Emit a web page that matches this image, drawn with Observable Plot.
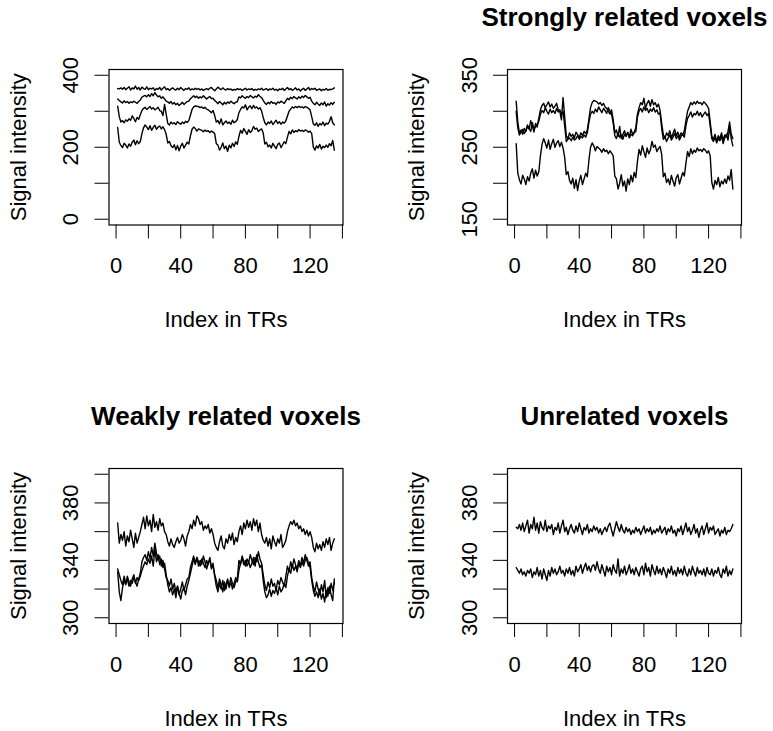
<!DOCTYPE html>
<html>
<head>
<meta charset="utf-8">
<script src="https://cdn.jsdelivr.net/npm/d3@7"></script>
<script src="https://cdn.jsdelivr.net/npm/@observablehq/plot@0.6"></script>
<style>
  body { margin: 0; background: #fff; }
  #chart { position: relative; width: 773px; height: 731px; background: #fff; overflow: hidden; }
  #chart svg { position: absolute; }
</style>
</head>
<body>
<div id="chart"></div>
<script>
// Time index (TR number) shared by every series
const tr = d3.range(1, 136);

// Strongly related voxels
const strongUpperA = [
  314, 285, 270, 274, 268, 276, 272, 279, 275, 287, 280, 271, 283, 278, 290,
  302, 308, 311, 305, 309, 313, 306, 310, 304, 307, 311, 302, 300, 288, 319, 292,
  266, 262, 270, 265, 268, 263, 271, 267, 264, 270, 266, 272, 269, 274,
  289, 305, 312, 315, 314, 313, 310, 312, 308, 311, 306, 304, 300, 296, 302, 288,
  270, 274, 265, 279, 262, 268, 273, 266, 270, 264, 275, 268, 271, 277,
  296, 305, 312, 309, 318, 304, 311, 315, 307, 316, 309, 312, 306, 310, 301, 283,
  268, 262, 270, 266, 273, 263, 269, 275, 266, 271, 264, 270, 267, 273,
  287, 300, 306, 312, 309, 313, 310, 314, 311, 312, 309, 313, 311, 308, 304, 285,
  265, 261, 268, 258, 266, 262, 270, 260, 267, 264, 272, 285, 268, 262
];
const strongUpperB = [
  300, 277, 267, 271, 275, 269, 273, 281, 276, 272, 284, 275, 279, 282, 286,
  296, 301, 298, 305, 300, 296, 303, 298, 301, 297, 304, 299, 302, 295, 300, 280,
  258, 261, 263, 259, 264, 260, 262, 266, 261, 265, 263, 267, 264, 270,
  285, 296, 300, 297, 303, 299, 306, 302, 298, 304, 301, 297, 305, 300, 296, 284,
  266, 262, 270, 264, 267, 261, 268, 265, 271, 263, 268, 266, 270, 272,
  292, 300, 304, 299, 306, 301, 304, 298, 303, 300, 305, 299, 302, 296, 298, 276,
  261, 265, 258, 263, 267, 260, 264, 269, 262, 266, 260, 265, 268, 264,
  280, 290, 294, 299, 292, 297, 295, 300, 294, 298, 292, 296, 299, 294, 297, 280,
  262, 258, 264, 256, 262, 259, 266, 255, 263, 268, 260, 278, 262, 252
];
const strongLower = [
  255, 214, 205, 199, 211, 206, 198, 209, 203, 214, 220, 207, 218, 210, 216,
  238, 254, 262, 256, 249, 260, 247, 255, 261, 250, 256, 259, 251, 257, 249, 236,
  212, 216, 204, 199, 207, 193, 205, 190, 203, 211, 198, 206, 214, 209,
  232, 250, 256, 252, 245, 251, 249, 247, 243, 248, 244, 246, 241, 245, 242, 238,
  210, 206, 192, 200, 212, 196, 203, 189, 206, 198, 211, 202, 215, 208,
  230, 247, 239, 252, 244, 236, 249, 241, 246, 258, 250, 253, 244, 248, 251, 240,
  209, 214, 201, 206, 198, 211, 203, 196, 208, 212, 199, 207, 215, 210,
  228, 244, 237, 248, 241, 246, 243, 249, 245, 247, 244, 248, 246, 242, 245, 238,
  201, 192, 204, 198, 208, 195, 203, 199, 206, 200, 210, 204, 219, 192
];

// Weakly related voxels
const weakUpper = [
  366, 352, 358, 354, 360, 350, 357, 353, 361, 355, 349, 359, 352, 356, 360,
  365, 370, 362, 371, 364, 368, 360, 372, 363, 367, 361, 369, 364, 366, 360, 358,
  353, 350, 355, 351, 349, 353, 356, 352, 354, 358, 355, 350, 357, 360,
  365, 362, 368, 364, 371, 369, 365, 367, 361, 364, 362, 365, 359, 362, 358, 352,
  349, 347, 353, 357, 350, 348, 355, 352, 358, 354, 359, 351, 356, 353,
  360, 364, 358, 366, 362, 368, 363, 367, 361, 369, 364, 368, 360, 366, 358, 354,
  352, 356, 350, 355, 348, 357, 353, 350, 355, 352, 358, 349, 351, 354,
  360, 364, 367, 365, 368, 364, 366, 362, 364, 360, 362, 358, 361, 357, 360, 356,
  349, 346, 352, 348, 351, 347, 353, 349, 355, 351, 356, 347, 352, 355
];
const weakLowerA = [
  332, 318, 312, 321, 326, 323, 329, 325, 322, 327, 330, 324, 328, 326, 329,
  333, 336, 339, 337, 341, 338, 343, 336, 348, 339, 344, 337, 341, 335, 338, 330,
  323, 318, 321, 316, 320, 314, 322, 317, 313, 319, 321, 316, 322, 326,
  331, 336, 341, 337, 342, 339, 336, 341, 338, 335, 340, 337, 342, 334, 338, 329,
  322, 318, 324, 320, 326, 319, 323, 327, 321, 325, 320, 324, 328, 325,
  333, 338, 342, 337, 340, 336, 339, 335, 338, 342, 336, 344, 339, 335, 337, 326,
  318, 314, 316, 320, 315, 319, 317, 321, 316, 322, 318, 320, 324, 321,
  329, 334, 331, 337, 333, 336, 332, 338, 335, 339, 336, 340, 342, 338, 335, 326,
  319, 315, 318, 314, 320, 313, 317, 311, 319, 315, 322, 316, 312, 327
];
const weakLowerB = [
  334, 330, 326, 323, 329, 324, 327, 322, 326, 324, 328, 325, 322, 327, 331,
  339, 342, 344, 340, 346, 341, 349, 343, 352, 345, 340, 343, 336, 340, 334, 328,
  326, 322, 327, 320, 324, 318, 322, 316, 320, 325, 319, 323, 327, 328,
  335, 339, 343, 338, 342, 336, 340, 337, 343, 339, 334, 338, 341, 335, 336, 330,
  326, 321, 327, 323, 318, 325, 320, 326, 322, 328, 324, 321, 325, 327,
  340, 337, 343, 339, 336, 341, 338, 344, 340, 337, 342, 339, 346, 341, 338, 330,
  323, 319, 325, 321, 327, 322, 324, 319, 326, 323, 328, 325, 322, 329,
  336, 332, 339, 335, 341, 337, 334, 340, 336, 342, 338, 344, 340, 336, 339, 328,
  322, 318, 325, 320, 316, 323, 318, 326, 314, 321, 317, 324, 319, 325
];

// Unrelated voxels
const unrelatedUpper = [
  363, 362, 365, 361, 366, 360, 364, 368, 359, 365, 362, 370, 361, 366, 359,
  367, 363, 361, 368, 360, 364, 362, 365, 358, 363, 361, 366, 359, 364, 368,
  360, 363, 358, 362, 365, 361, 359, 364, 360, 366, 362, 358, 363, 361, 365,
  359, 362, 360, 364, 361, 363, 359, 362, 358, 361, 363, 360, 364, 366, 361,
  357, 362, 367, 363, 360, 365, 361, 359, 363, 360, 362, 358, 361, 359, 363,
  360, 362, 358, 361, 364, 359, 362, 360, 363, 358, 361, 359, 362, 360, 364,
  359, 361, 363, 358, 362, 360, 364, 359, 361, 357, 362, 360, 364, 358, 362,
  366, 360, 363, 358, 361, 365, 359, 362, 356, 361, 364, 358, 362, 366, 359,
  363, 361, 364, 358, 360, 362, 357, 361, 359, 363, 358, 361, 360, 362, 365
];
const unrelatedLower = [
  335, 333, 331, 334, 330, 332, 329, 333, 331, 334, 328, 332, 330, 335, 329,
  333, 327, 334, 330, 326, 333, 329, 335, 331, 334, 330, 332, 336, 331, 333,
  329, 334, 331, 335, 330, 333, 329, 336, 332, 334, 337, 331, 335, 338, 333,
  336, 332, 336, 337, 333, 339, 334, 331, 337, 333, 329, 336, 332, 335, 330,
  337, 333, 331, 341, 329, 334, 331, 336, 330, 333, 337, 331, 334, 330, 335,
  332, 329, 334, 336, 330, 338, 332, 335, 329, 337, 333, 330, 336, 331, 334,
  330, 335, 332, 328, 334, 331, 336, 330, 333, 329, 335, 331, 334, 330, 336,
  331, 329, 334, 330, 336, 332, 329, 335, 331, 333, 330, 334, 329, 335, 331,
  330, 334, 329, 333, 331, 335, 330, 328, 334, 331, 336, 329, 333, 330, 334
];

// Axis ticks and labels
const xDomain = [-4.36, 140.36];
const xTicks = [0, 20, 40, 60, 80, 100, 120, 140];
const xTickLabels = [0, 40, 80, 120];

const allTicks = [0, 100, 200, 300, 400];
const allLabels = [0, 200, 400];
const strongTicks = [150, 200, 250, 300, 350];
const strongLabels = [150, 250, 350];
const narrowTicks = [300, 320, 340, 360, 380, 400];
const narrowLabels = [300, 340, 380];

const titles = ["", "Strongly related voxels", "Weakly related voxels", "Unrelated voxels"];
const xTitle = "Index in TRs";
const yTitle = "Signal intensity";

const font = "'Liberation Sans', Arial, Helvetica, sans-serif";

function panel({series, yDomain, yTicks, yLabels, title, left, top, width, height, margin}) {
  const marks = [
    ...series.map(s => Plot.lineY(s, {
      x: (d, i) => tr[i], y: d => d,
      stroke: "black", strokeWidth: 1.4
    })),
    Plot.frame({stroke: "black", strokeWidth: 1.2}),
    Plot.text([xTitle], {text: d => d, frameAnchor: "bottom", textAnchor: "middle", lineAnchor: "bottom", dy: 102, fontSize: 22}),
    Plot.text([yTitle], {text: d => d, frameAnchor: "left", textAnchor: "middle", lineAnchor: "bottom", rotate: -90, dx: -83.5, fontSize: 22})
  ];
  if (title) {
    marks.push(Plot.text([title], {text: d => d, frameAnchor: "top", textAnchor: "middle", lineAnchor: "bottom", dy: -44, fontSize: 26, fontWeight: "bold"}));
  }
  const svg = Plot.plot({
    width, height,
    marginLeft: margin[0], marginRight: margin[1], marginTop: margin[2], marginBottom: margin[3],
    style: {fontFamily: font, fontSize: "22px", color: "black", background: "transparent", overflow: "visible"},
    x: {domain: xDomain, ticks: xTicks, tickFormat: d => xTickLabels.includes(d) ? String(d) : "", tickSize: 14, tickPadding: 18.5, label: null},
    y: {domain: yDomain, ticks: yTicks, tickFormat: d => yLabels.includes(d) ? String(d) : "", tickSize: 14, tickPadding: 17, tickRotate: -90, label: null},
    marks
  });
  svg.style.left = left + "px";
  svg.style.top = top + "px";
  document.getElementById("chart").appendChild(svg);
}

panel({
  series: [unrelatedUpper, weakLowerB, strongUpperA, strongLower],
  yDomain: [-16, 416], yTicks: allTicks, yLabels: allLabels, title: titles[0],
  left: 0, top: 0, width: 386, height: 365, margin: [108.5, 43.5, 69, 140.5]
});
panel({
  series: [strongUpperA, strongUpperB, strongLower],
  yDomain: [142, 358], yTicks: strongTicks, yLabels: strongLabels, title: titles[1],
  left: 386, top: 0, width: 387, height: 365, margin: [121, 32, 69, 140.5]
});
panel({
  series: [weakUpper, weakLowerA, weakLowerB],
  yDomain: [296, 404], yTicks: narrowTicks, yLabels: narrowLabels, title: titles[2],
  left: 0, top: 365, width: 386, height: 366, margin: [108.5, 43.5, 103, 108]
});
panel({
  series: [unrelatedUpper, unrelatedLower],
  yDomain: [296, 404], yTicks: narrowTicks, yLabels: narrowLabels, title: titles[3],
  left: 386, top: 365, width: 387, height: 366, margin: [121, 32, 103, 108]
});
</script>
</body>
</html>
